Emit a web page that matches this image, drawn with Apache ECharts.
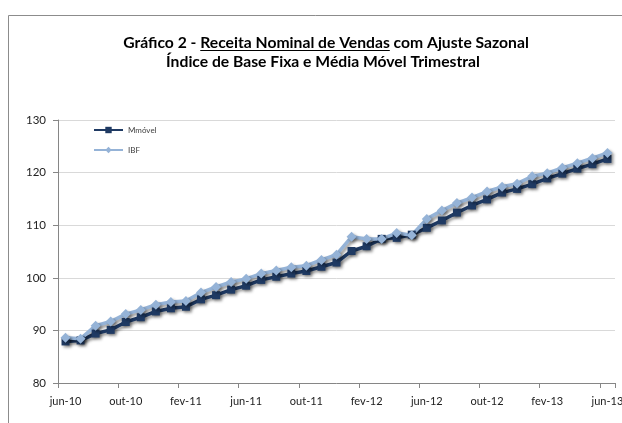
<!DOCTYPE html>
<html>
<head>
<meta charset="utf-8">
<script src="https://cdn.jsdelivr.net/npm/echarts@6/dist/echarts.min.js"></script>
<style>html,body{margin:0;padding:0;background:#fff;}#c{width:622px;height:423px;}</style>
</head>
<body>
<div id="c"></div>
<script>
const categories = ['jun-10','jul-10','ago-10','set-10','out-10','nov-10','dez-10',
  'jan-11','fev-11','mar-11','abr-11','mai-11','jun-11','jul-11','ago-11','set-11','out-11','nov-11','dez-11',
  'jan-12','fev-12','mar-12','abr-12','mai-12','jun-12','jul-12','ago-12','set-12','out-12','nov-12','dez-12',
  'jan-13','fev-13','mar-13','abr-13','mai-13','jun-13'];
const mmovel = [87.9,88.1,89.4,90.1,91.6,92.5,93.6,94.2,94.5,95.9,96.7,97.75,98.5,99.6,100.2,100.8,101.3,102.1,102.9,
  105.1,106.0,107.4,107.6,108.2,109.5,110.9,112.4,113.75,114.9,116.2,116.9,117.8,118.9,119.8,120.75,121.6,122.6];
const ibf = [88.6,88.4,90.9,91.7,93.1,93.9,94.9,95.4,95.6,97.2,98.25,99.2,99.8,100.8,101.4,102.0,102.3,103.4,104.4,
  107.8,107.4,107.4,108.5,108.1,111.2,112.8,114.2,115.25,116.4,117.3,117.9,119.3,119.9,120.9,121.8,122.75,123.75];
const yTicks = [80, 90, 100, 110, 120, 130];
const titlePrefix = 'Gráfico 2 - ';
const titleUnder = 'Receita Nominal de Vendas';
const titleSuffix = ' com Ajuste Sazonal';
const title2 = 'Índice de Base Fixa e Média Móvel Trimestral';

const FONT = 'Lato';
const ctx = document.createElement('canvas').getContext('2d');
function tw(t, s) { ctx.font = 'bold ' + s + 'px ' + FONT; return ctx.measureText(t).width; }
const line1 = titlePrefix + titleUnder + titleSuffix;
const tSize = Math.round(16 * 406 / tw(line1, 16) * 10) / 10;
const cx = 326;
const w1 = tw(line1, tSize);
const uStart = cx - w1 / 2 + tw(titlePrefix, tSize);
const uEnd = uStart + tw(titleUnder, tSize);

const shadow = { shadowColor: 'rgba(0,0,0,0.4)', shadowBlur: 3, shadowOffsetX: 2, shadowOffsetY: 2 };

const chart = echarts.init(document.getElementById('c'), null, { renderer: 'canvas' });
chart.setOption({
  animation: false,
  backgroundColor: '#fff',
  textStyle: { fontFamily: FONT },
  graphic: [
    { type: 'rect', shape: { x: 8.5, y: 15.5, width: 800, height: 600 }, style: { fill: 'none', stroke: '#8c8c8c', lineWidth: 1 }, silent: true },
    { type: 'text', x: cx, y: 42.5, style: { text: line1, font: 'bold ' + tSize + 'px ' + FONT, fill: '#000', align: 'center', verticalAlign: 'middle' } },
    { type: 'text', x: 323, y: 62, style: { text: title2, font: 'bold ' + tSize + 'px ' + FONT, fill: '#000', align: 'center', verticalAlign: 'middle' } },
    { type: 'line', shape: { x1: uStart, y1: 50.5, x2: uEnd, y2: 50.5 }, style: { stroke: '#000', lineWidth: 1 } }
  ],
  legend: {
    orient: 'vertical', left: 93, top: 126, itemWidth: 29, itemHeight: 8, itemGap: 12, padding: 0,
    textStyle: { fontSize: 8, color: '#404040', fontFamily: FONT },
    data: ['Mmóvel', 'IBF']
  },
  grid: { left: 58, right: 7, top: 120, bottom: 40, containLabel: false, outerBoundsMode: 'none' },
  xAxis: {
    type: 'category', data: categories, boundaryGap: true,
    axisLine: { show: true, lineStyle: { color: '#868686', width: 1 } },
    axisTick: { show: true, interval: 3, length: 5, lineStyle: { color: '#868686' } },
    axisLabel: { interval: 3, margin: 13, fontSize: 11, color: '#222', fontFamily: FONT, hideOverlap: false },
    splitLine: { show: false }
  },
  yAxis: {
    type: 'value', min: yTicks[0], max: yTicks[yTicks.length - 1], interval: 10,
    axisLine: { show: true, lineStyle: { color: '#868686', width: 1 } },
    axisTick: { show: true, length: 5, lineStyle: { color: '#868686' } },
    axisLabel: { margin: 12, fontSize: 11.5, color: '#222', fontFamily: FONT },
    splitLine: { show: true, lineStyle: { color: '#d9d9d9', width: 1 } }
  },
  series: [
    { name: 'Mmóvel', type: 'line', data: mmovel, symbol: 'rect', symbolSize: 8,
      lineStyle: Object.assign({ color: '#1f3a63', width: 3.5 }, shadow),
      itemStyle: Object.assign({ color: '#1f3a63' }, shadow) },
    { name: 'IBF', type: 'line', data: ibf, symbol: 'diamond', symbolSize: 10,
      lineStyle: Object.assign({ color: '#95b3d7', width: 3.5 }, shadow),
      itemStyle: Object.assign({ color: '#95b3d7' }, shadow) }
  ]
});
</script>
</body>
</html>
